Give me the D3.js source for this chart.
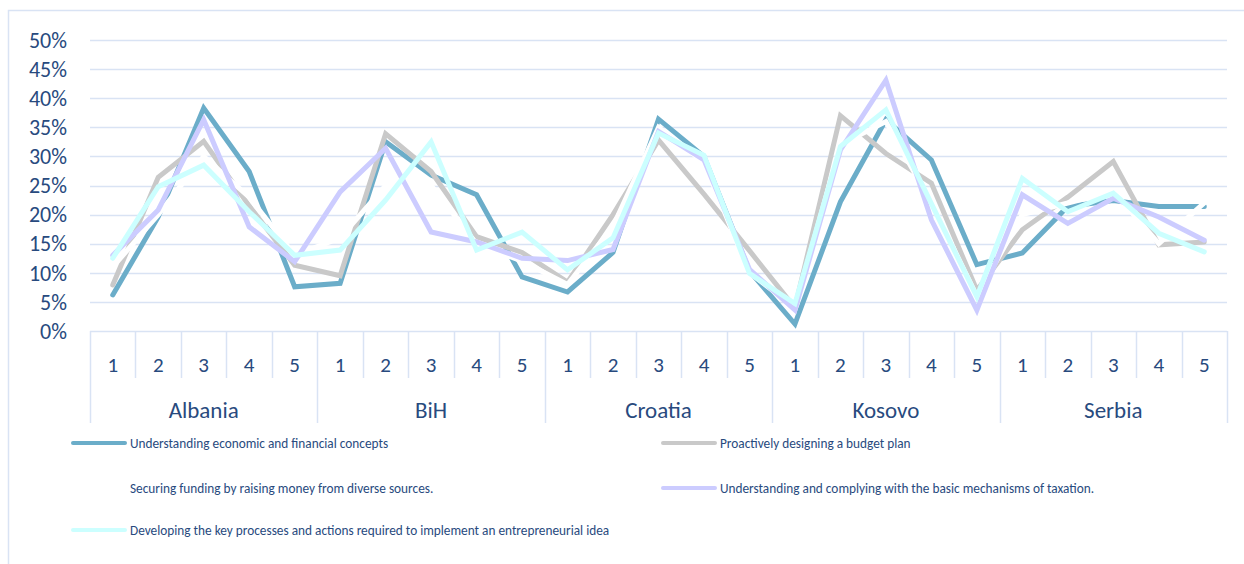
<!DOCTYPE html>
<html lang="en">

<head>
    <meta charset="UTF-8">
    <title>Financial literacy skills by country</title>
    <style>
        body {
            margin: 0;
            background-color: #fff;
            font-family: Carlito, Calibri, Lato, sans-serif;
        }

        .grid line {
            stroke: #d9e3f4;
            stroke-width: 1.5;
        }

        .tick-label {
            fill: #284a7e;
        }

        .series {
            fill: none;
            stroke-width: 5;
            stroke-linejoin: miter;
            stroke-linecap: round;
        }
    </style>
    <script src="https://cdn.jsdelivr.net/npm/d3@7"></script>
</head>

<body>
    <div id="chart"></div>
    <script>
        const width = 1244;
        const height = 564;

        const countries = ["Albania", "BiH", "Croatia", "Kosovo", "Serbia"];
        const levels = ["1", "2", "3", "4", "5"];
        const yTicks = [0, 0.05, 0.10, 0.15, 0.20, 0.25, 0.30, 0.35, 0.40, 0.45, 0.50];

        // values in %, Albania 1-5, BiH 1-5, Croatia 1-5, Kosovo 1-5, Serbia 1-5
        const economicConcepts = [6.2, 19.6, 38.3, 27.4, 7.6, 8.2, 32.5, 26.8, 23.4, 9.3, 6.7, 13.5, 36.4, 30, 10.3, 1.2, 22.2, 36.3, 29.4, 11.4, 13.4, 21.4, 22.4, 21.4, 21.4];
        const budgetPlan = [7.9, 26.4, 32.6, 21.5, 11.3, 9.5, 33.9, 27.4, 16.2, 13.5, 8.4, 20, 32.8, 23.5, 13.8, 4.0, 37.0, 30.5, 25.4, 7.0, 17.4, 23.0, 29.1, 14.8, 15.3];
        const securingFunding = [11, 20, 30, 23, 13, 16, 25, 25, 15, 12, 8, 18, 35, 29, 10, 4, 32, 36, 22, 6, 20, 22, 24, 15, 22];
        const taxation = [13, 20.8, 36.3, 17.9, 11.9, 23.9, 31.4, 17, 15.3, 12.5, 12.1, 14, 34.3, 29.4, 10.6, 3.6, 31.1, 43.1, 19.1, 3.6, 23.4, 18.5, 22.8, 19.6, 15.6];
        const entrepreneurialIdea = [12.5, 24.8, 28.5, 20.5, 13, 13.9, 22.5, 32.5, 13.9, 17, 10.5, 16, 34, 30.2, 9.9, 4.7, 31.7, 38, 21.9, 5.9, 26.2, 20.5, 23.7, 16.8, 13.6];

        const seriesNames = [
            "Understanding economic and financial concepts",
            "Proactively designing a budget plan",
            "Securing funding by raising money from diverse sources.",
            "Understanding and complying with the basic mechanisms of taxation.",
            "Developing the key processes and actions required to implement an entrepreneurial idea"
        ];
        const seriesColors = ["#6badc9", "#c9c9c9", "#ffffff", "#ccccff", "#ccffff"];
        const seriesValues = [economicConcepts, budgetPlan, securingFunding, taxation, entrepreneurialIdea];

        const categories = [];
        countries.forEach(c => levels.forEach(l => categories.push(c + "-" + l)));

        const plotLeft = 90, plotRight = 1227, plotTop = 40, plotBottom = 331;

        const x = d3.scaleBand().domain(categories).range([plotLeft, plotRight]);
        const y = d3.scaleLinear().domain([0, 0.5]).range([plotBottom, plotTop]);

        const svg = d3.select("#chart").append("svg")
            .attr("width", width)
            .attr("height", height);

        // outer frame (left and top edges visible)
        svg.append("path")
            .attr("d", `M8.5,${height} V10.5 H${width}`)
            .attr("fill", "none")
            .attr("stroke", "#d9e3f4")
            .attr("stroke-width", 1.5);

        // gridlines
        svg.append("g").attr("class", "grid")
            .selectAll("line")
            .data(yTicks)
            .join("line")
            .attr("x1", plotLeft)
            .attr("x2", plotRight)
            .attr("y1", d => Math.round(y(d)) + 0.5)
            .attr("y2", d => Math.round(y(d)) + 0.5);

        svg.append("g")
            .selectAll("text")
            .data(yTicks)
            .join("text")
            .attr("class", "tick-label")
            .attr("x", 67)
            .attr("y", d => y(d))
            .attr("dy", "0.35em")
            .attr("text-anchor", "end")
            .attr("font-size", 22)
            .text(d => d3.format(".0%")(d));

        // category axis: separators between levels and country groups
        const sepGroup = svg.append("g").attr("class", "grid");
        d3.range(categories.length + 1).forEach(i => {
            const xi = i < categories.length ? x(categories[i]) : plotRight;
            const isGroup = i % levels.length === 0;
            sepGroup.append("line")
                .attr("x1", Math.round(xi) + 0.5)
                .attr("x2", Math.round(xi) + 0.5)
                .attr("y1", plotBottom)
                .attr("y2", isGroup ? 423 : 378);
        });

        svg.append("g")
            .selectAll("text")
            .data(categories)
            .join("text")
            .attr("class", "tick-label")
            .attr("x", d => x(d) + x.bandwidth() / 2)
            .attr("y", 365)
            .attr("dy", "0.35em")
            .attr("text-anchor", "middle")
            .attr("font-size", 21)
            .text(d => d.split("-")[1]);

        svg.append("g")
            .selectAll("text")
            .data(countries)
            .join("text")
            .attr("class", "tick-label")
            .attr("x", d => (x(d + "-1") + x(d + "-5") + x.bandwidth()) / 2)
            .attr("y", 410)
            .attr("dy", "0.35em")
            .attr("text-anchor", "middle")
            .attr("font-size", 23)
            .text(d => d);

        // lines
        const line = d3.line()
            .x((d, i) => x(categories[i]) + x.bandwidth() / 2)
            .y(d => y(d / 100));

        svg.append("g")
            .selectAll("path")
            .data(seriesValues)
            .join("path")
            .attr("class", "series")
            .attr("stroke", (d, i) => seriesColors[i])
            .attr("d", line);

        // legend
        const legendPos = [
            { x: 73, y: 443 },
            { x: 663, y: 443 },
            { x: 73, y: 488 },
            { x: 663, y: 488 },
            { x: 73, y: 530 }
        ];

        const legend = svg.append("g")
            .selectAll("g")
            .data(seriesNames)
            .join("g")
            .attr("transform", (d, i) => `translate(${legendPos[i].x},${legendPos[i].y})`);

        legend.append("line")
            .attr("x1", 0)
            .attr("x2", 52)
            .attr("stroke", (d, i) => seriesColors[i])
            .attr("stroke-width", 4)
            .attr("stroke-linecap", "round");

        legend.append("text")
            .attr("class", "tick-label")
            .attr("x", 57)
            .attr("dy", "0.35em")
            .attr("font-size", 13.3)
            .text(d => d);
    </script>
</body>

</html>
